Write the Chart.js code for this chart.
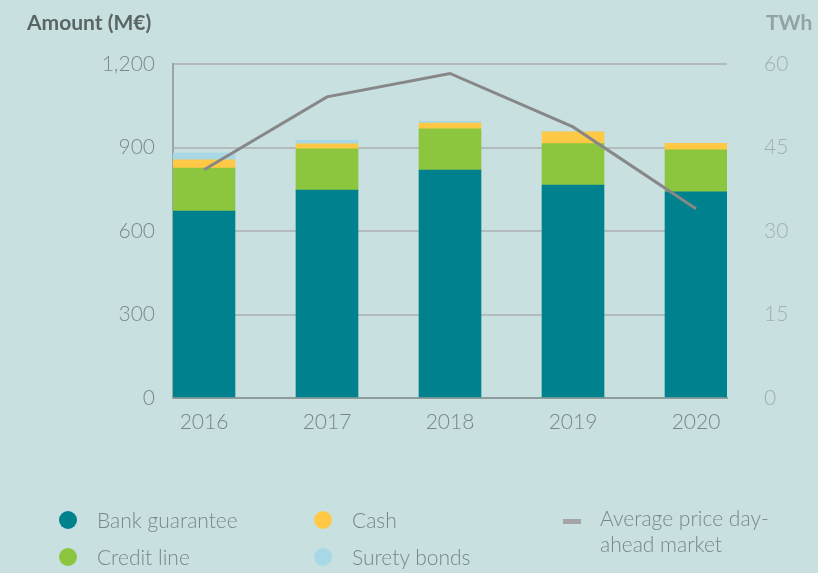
<!DOCTYPE html>
<html>
<head>
<meta charset="utf-8">
<script src="https://cdn.jsdelivr.net/npm/chart.js@4.4.1/dist/chart.umd.min.js"></script>
<style>
  html, body { margin: 0; padding: 0; background: #c8e0e0; }
  #wrap { position: relative; width: 818px; height: 573px; background: #c8e0e0; overflow: hidden; font-family: 'Lato', 'Open Sans', sans-serif; }
  #chart { position: absolute; left: 0; top: 0; }
  .axis-title { position: absolute; font-weight: 700; font-size: 21px; line-height: 24px; }
  #titleLeft { left: 27px; top: 10px; color: #5a6565; }
  #titleRight { left: 766px; top: 10px; color: #93a2a2; }
  .leg { position: absolute; font-weight: 300; font-size: 21px; line-height: 26px; color: #7a8787; white-space: nowrap; }
  .dot { position: absolute; width: 18px; height: 18px; border-radius: 50%; }
  .dash { position: absolute; width: 18px; height: 5px; }
</style>
</head>
<body>
<div id="wrap">
  <canvas id="chart" width="818" height="573"></canvas>
  <div class="axis-title" id="titleLeft">Amount (M€)</div>
  <div class="axis-title" id="titleRight">TWh</div>
  <div id="legend"></div>
</div>
<script>
// Years on the category axis
const years = ['2016', '2017', '2018', '2019', '2020'];

// Collateral amounts, M€ (stacked bars)
const bankGuarantee = [672, 747, 819, 765, 741];
const creditLine    = [154, 148, 148, 149, 151];
const cash          = [30, 18, 21, 42, 23];
const suretyBonds   = [24, 14, 6, 0, 0];

// Average day-ahead market price, plotted on the right axis (TWh)
const avgPrice = [41.0, 54.1, 58.3, 48.7, 34.0];

// Axis tick values
const leftTicks  = [0, 300, 600, 900, 1200];
const rightTicks = [0, 15, 30, 45, 60];

const seriesNames = ['Bank guarantee', 'Credit line', 'Cash', 'Surety bonds', 'Average price day-ahead market'];
const colors = {
  bank: '#00828e',
  credit: '#8cc63f',
  cash: '#ffc845',
  surety: '#a8d8e6',
  price: '#878787',
  priceLegend: '#a5a5a5'
};

const toPoints = arr => arr.map((v, i) => ({ x: i, y: v }));

const barBase = { type: 'bar', yAxisID: 'y', barThickness: 62, order: 1, borderWidth: 0 };

const data = {
  datasets: [
    { ...barBase, label: seriesNames[0], data: toPoints(bankGuarantee), backgroundColor: colors.bank },
    { ...barBase, label: seriesNames[1], data: toPoints(creditLine), backgroundColor: colors.credit },
    { ...barBase, label: seriesNames[2], data: toPoints(cash), backgroundColor: colors.cash },
    { ...barBase, label: seriesNames[3], data: toPoints(suretyBonds), backgroundColor: colors.surety },
    {
      type: 'line', label: seriesNames[4], data: toPoints(avgPrice), yAxisID: 'y2', order: 0,
      borderColor: colors.price, borderWidth: 3, pointRadius: 0, tension: 0, fill: false
    }
  ]
};

const tickFont = { family: 'Lato', weight: '300', size: 21 };

new Chart(document.getElementById('chart'), {
  type: 'bar',
  data,
  options: {
    responsive: false,
    animation: false,
    devicePixelRatio: 1,
    layout: { padding: { left: 0, right: 0, top: 64, bottom: 125 } },
    plugins: { legend: { display: false }, tooltip: { enabled: false } },
    scales: {
      x: {
        type: 'linear',
        stacked: true,
        offset: false,
        min: -0.252,
        max: years.length - 1 + 0.252,
        afterBuildTicks: s => { s.ticks = years.map((_, i) => ({ value: i })); },
        afterFit: s => { s.height = 50; },
        grid: { display: false, drawTicks: false, offset: false },
        border: { display: true, color: '#8f9c9c', width: 2 },
        ticks: {
          font: tickFont, color: '#7a8686', padding: 12, autoSkip: false, maxRotation: 0,
          callback: v => years[v] ?? ''
        }
      },
      y: {
        position: 'left',
        stacked: true,
        min: leftTicks[0],
        max: leftTicks[leftTicks.length - 1],
        afterBuildTicks: s => { s.ticks = leftTicks.map(v => ({ value: v })); },
        afterFit: s => { s.width = 173; },
        grid: { color: '#b3bcbc', lineWidth: 2, drawTicks: false },
        border: { display: true, color: '#9aa5a5', width: 2 },
        ticks: {
          font: tickFont, color: '#7d8989', padding: 18,
          callback: v => v.toLocaleString('en-US')
        }
      },
      y2: {
        position: 'right',
        min: rightTicks[0],
        max: rightTicks[rightTicks.length - 1],
        afterBuildTicks: s => { s.ticks = rightTicks.map(v => ({ value: v })); },
        afterFit: s => { s.width = 91; },
        grid: { display: false, drawTicks: false },
        border: { display: false },
        ticks: { font: tickFont, color: '#a0afaf', padding: 37 }
      }
    }
  }
});

// Legend built from the series names and colours
const legendItems = [
  { name: seriesNames[0], color: colors.bank,   kind: 'dot',  x: 59,  y: 511 },
  { name: seriesNames[1], color: colors.credit, kind: 'dot',  x: 59,  y: 548 },
  { name: seriesNames[2], color: colors.cash,   kind: 'dot',  x: 314, y: 511 },
  { name: seriesNames[3], color: colors.surety, kind: 'dot',  x: 314, y: 548 },
  { name: 'Average price day-<br>ahead market', color: colors.priceLegend, kind: 'dash', x: 563, y: 511 }
];
const legend = document.getElementById('legend');
legendItems.forEach(it => {
  const mark = document.createElement('div');
  mark.className = it.kind;
  mark.style.background = it.color;
  mark.style.left = it.x + 'px';
  mark.style.top = (it.kind === 'dot' ? it.y : it.y + 8) + 'px';
  legend.appendChild(mark);
  const txt = document.createElement('div');
  txt.className = 'leg';
  txt.innerHTML = it.name;
  txt.style.left = (it.kind === 'dot' ? it.x + 38 : it.x + 37) + 'px';
  txt.style.top = (it.kind === 'dot' ? it.y - 4 : it.y - 6) + 'px';
  legend.appendChild(txt);
});
</script>
</body>
</html>
